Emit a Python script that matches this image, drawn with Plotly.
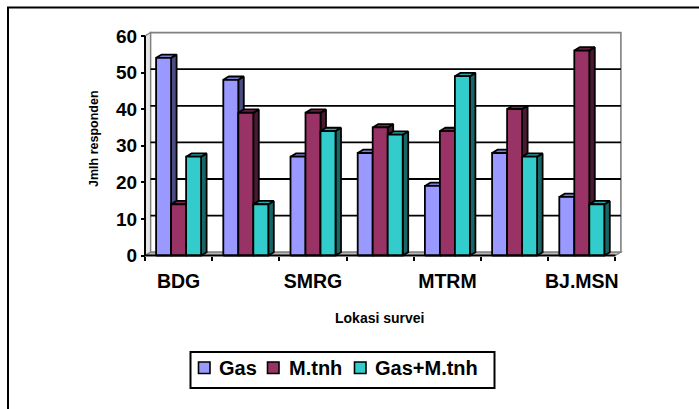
import plotly.graph_objects as go

# ---- data -------------------------------------------------------------
categories = ["BDG", "", "SMRG", "", "MTRM", "", "BJ.MSN"]
series_names = ["Gas", "M.tnh", "Gas+M.tnh"]
gas = [54, 48, 27, 28, 19, 28, 16]
m_tnh = [14, 39, 39, 35, 34, 40, 56]
gas_m_tnh = [27, 14, 34, 33, 49, 27, 14]
y_ticks = [0, 10, 20, 30, 40, 50, 60]

series_values = [gas, m_tnh, gas_m_tnh]

# ---- styling ----------------------------------------------------------
front_colors = ["#9999FF", "#993366", "#33CCCC"]
top_colors = ["#7C7CD6", "#7D2852", "#29A8A8"]
side_colors = ["#4C4C80", "#4C1933", "#196666"]
FONT = "Arial, Liberation Sans, sans-serif"

W, H = 699, 409
# plotting area in pixels
PL, PR, PT, PB = 130, 640, 25, 272
X0_PX = 145.0     # left end of the category axis
CAT_PX = 67.2     # width of one category
Y0_PX = 255.5     # value axis zero
UNIT_PX = 3.66    # pixels per value unit


def x_data(px):
    return -0.5 + (px - X0_PX) / CAT_PX


def y_data(py):
    return (Y0_PX - py) / UNIT_PX


def xp(px):
    return (px - PL) / (PR - PL)


def yp(py):
    return (PB - py) / (PB - PT)


x_range = [x_data(PL), x_data(PR)]
y_range = [y_data(PB), y_data(PT)]

# 3-D depth offset (data units) and bar width
DX = 5.5 / CAT_PX
DY = 3.3 / UNIT_PX
BAR_W = 15.0 / CAT_PX
n = len(categories)
y_max = y_ticks[-1]

fig = go.Figure()

# ---- bars: side, top and front faces per series -----------------------
for k, (name, vals) in enumerate(zip(series_names, series_values)):
    sx, sy, tx, ty, fx, fy = [], [], [], [], [], []
    for i, v in enumerate(vals):
        l = i - 1.5 * BAR_W + k * BAR_W
        r = l + BAR_W
        sx += [r, r + DX, r + DX, r, r, None]
        sy += [0, DY, v + DY, v, 0, None]
        tx += [l, r, r + DX, l + DX, l, None]
        ty += [v, v, v + DY, v + DY, v, None]
        fx += [l, r, r, l, l, None]
        fy += [0, 0, v, v, 0, None]
    for xs, ys, col in ((sx, sy, side_colors[k]), (tx, ty, top_colors[k]),
                        (fx, fy, front_colors[k])):
        fig.add_trace(go.Scatter(
            x=xs, y=ys, mode="lines", fill="toself", fillcolor=col,
            line=dict(color="black", width=1.8), name=name,
            showlegend=False, hoverinfo="skip"))

# ---- walls, floor, gridlines (below the bars) --------------------------
shapes = []
xl, xr = -0.5, n - 0.5


def poly(pts, close=True):
    d = "M " + " L ".join(f"{x},{y}" for x, y in pts)
    return d + " Z" if close else d


# back wall
shapes.append(dict(type="path", xref="x", yref="y", layer="below",
                   path=poly([(xl + DX, DY), (xr + DX, DY),
                              (xr + DX, y_max + DY), (xl + DX, y_max + DY)]),
                   fillcolor="white", line=dict(color="#808080", width=1.6)))
# left side wall
shapes.append(dict(type="path", xref="x", yref="y", layer="below",
                   path=poly([(xl, 0), (xl, y_max), (xl + DX, y_max + DY),
                              (xl + DX, DY)]),
                   fillcolor="#E6E6E6", line=dict(color="#808080", width=1.2)))
# gridlines on the back wall
for t in y_ticks[1:-1]:
    shapes.append(dict(type="line", xref="x", yref="y", layer="below",
                       x0=xl + DX, x1=xr + DX, y0=t + DY, y1=t + DY,
                       line=dict(color="black", width=1.8)))
# floor
shapes.append(dict(type="path", xref="x", yref="y", layer="below",
                   path=poly([(xl, 0), (xr, 0), (xr + DX, DY), (xl + DX, DY)]),
                   fillcolor="#B8B8B8", line=dict(color="#808080", width=1.2)))
# front axis lines
shapes.append(dict(type="line", xref="x", yref="y", x0=xl, x1=xr, y0=0, y1=0,
                   line=dict(color="black", width=2)))
shapes.append(dict(type="line", xref="x", yref="y", x0=xl, x1=xl, y0=0,
                   y1=y_max, line=dict(color="black", width=2)))

# ---- legend box (drawn) -------------------------------------------------
shapes.append(dict(type="rect", xref="paper", yref="paper",
                   x0=xp(190.5), x1=xp(494.5), y0=yp(352), y1=yp(388),
                   line=dict(color="black", width=2), fillcolor="white"))
legend_sq = [198.5, 267.5, 354.5]
legend_tx = [216.5, 286.5, 373]
annotations = []
for k, name in enumerate(series_names):
    shapes.append(dict(type="rect", xref="paper", yref="paper",
                       x0=xp(legend_sq[k]), x1=xp(legend_sq[k] + 11.5),
                       y0=yp(362), y1=yp(373.5),
                       fillcolor=front_colors[k],
                       line=dict(color="black", width=1.6)))
    annotations.append(dict(text=name, xref="paper", yref="paper",
                            x=xp(legend_tx[k]), y=yp(368),
                            xanchor="left", yanchor="middle", showarrow=False,
                            font=dict(family=FONT, size=20, color="black",
                                      weight="bold")))

# outer chart frame: left and top edges as one open path
shapes.append(dict(type="path", xref="paper", yref="paper",
                   path=poly([(xp(8), yp(H + 2)), (xp(8), yp(7.5)),
                              (xp(W + 2), yp(7.5))], close=False),
                   fillcolor="rgba(0,0,0,0)",
                   line=dict(color="black", width=2)))

# axis titles
annotations.append(dict(text="Jmlh responden", xref="paper", yref="paper",
                        x=xp(94), y=yp(139), textangle=-90, showarrow=False,
                        xanchor="center", yanchor="middle",
                        font=dict(family=FONT, size=12.5, color="black",
                                  weight="bold")))
annotations.append(dict(text="Lokasi survei", xref="paper", yref="paper",
                        x=xp(380), y=yp(318), showarrow=False,
                        xanchor="center", yanchor="middle",
                        font=dict(family=FONT, size=14, color="black",
                                  weight="bold")))

tick_idx = [i for i, c in enumerate(categories) if c]

fig.update_layout(
    width=W, height=H, autosize=False,
    margin=dict(l=PL, r=W - PR, t=PT, b=H - PB, pad=0),
    paper_bgcolor="white", plot_bgcolor="rgba(0,0,0,0)",
    showlegend=False,
    shapes=shapes, annotations=annotations,
    xaxis=dict(range=x_range, anchor="free", position=yp(Y0_PX),
               showgrid=False, zeroline=False, showline=False,
               tickmode="array", tickvals=tick_idx,
               ticktext=[categories[i] for i in tick_idx], ticks="",
               ticklabelstandoff=12,
               tickfont=dict(family=FONT, size=19.5, color="black",
                             weight="bold"),
               minor=dict(tickmode="array",
                          tickvals=[i - 0.5 for i in range(n + 1)],
                          ticks="outside", ticklen=4, tickwidth=1.5,
                          tickcolor="black", showgrid=False)),
    yaxis=dict(range=y_range, anchor="free", position=xp(X0_PX),
               showgrid=False, zeroline=False, showline=False,
               tickmode="array", tickvals=y_ticks, ticks="outside",
               ticklen=4, tickwidth=1.5, tickcolor="black",
               tickfont=dict(family=FONT, size=19, color="black",
                             weight="bold")),
)

fig.write_html("out.html")
